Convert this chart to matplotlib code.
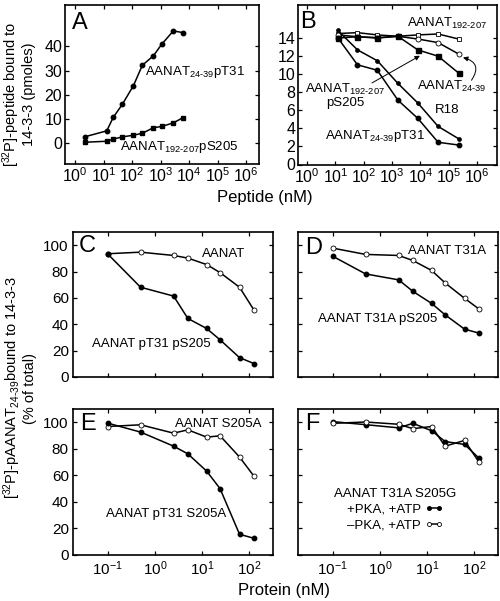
import matplotlib
matplotlib.use('Agg')
import matplotlib.pyplot as plt
from matplotlib.ticker import NullLocator

plt.rcParams['font.family'] = ['Liberation Sans', 'DejaVu Sans']
plt.rcParams['mathtext.fontset'] = 'custom'
plt.rcParams['mathtext.rm'] = 'Liberation Sans'
plt.rcParams['mathtext.it'] = 'Liberation Sans:italic'
plt.rcParams['mathtext.bf'] = 'Liberation Sans:bold'
plt.rcParams['axes.linewidth'] = 1.2
plt.rcParams['xtick.direction'] = 'in'
plt.rcParams['ytick.direction'] = 'in'
plt.rcParams['xtick.top'] = True
plt.rcParams['ytick.right'] = True
plt.rcParams['xtick.major.size'] = 3
plt.rcParams['ytick.major.size'] = 3
plt.rcParams['xtick.major.width'] = 0.9
plt.rcParams['ytick.major.width'] = 0.9

# Panel A: peptide (nM) vs pmoles bound
a_conc = [2.3, 13, 22, 46, 112, 230, 560, 1100, 2800, 6000]
a_pT31 = [2.7, 5.1, 10.7, 16.1, 23.8, 32.2, 36.1, 40.9, 46.4, 45.7]
a_pS205 = [0.4, 0.8, 1.7, 2.6, 3.3, 4.1, 6.4, 6.9, 8.4, 10.5]

# Panel B: competition, peptide (nM)
b_conc = [12, 60, 300, 1600, 8000, 42000, 220000]
b_192_207 = [14.45, 14.55, 14.3, 14.15, 14.3, 14.4, 13.85]
b_24_39 = [14.3, 14.1, 13.95, 14.15, 13.85, 13.45, 12.2]
b_pS205 = [13.95, 14.1, 14.0, 14.15, 12.65, 11.95, 10.1]
b_R18 = [14.8, 12.65, 11.45, 8.95, 6.8, 4.2, 2.85]
b_pT31 = [14.0, 11.0, 10.4, 7.1, 5.1, 2.45, 2.15]

# Panels C-F: protein (nM) vs % of total
prot = [0.1, 0.5, 2.5, 5, 12.5, 24, 62, 125]
c_aanat = [93.5, 94.7, 92.2, 90.2, 85.3, 79.2, 68.1, 50.8]
c_pT31_pS205 = [93.5, 68.1, 61.4, 44.4, 36.8, 28.2, 14.7, 10.2]
d_T31A = [97.8, 93.0, 92.2, 88.4, 80.8, 71.4, 59.7, 51.6]
d_T31A_pS205 = [91.7, 78.2, 73.7, 65.0, 55.8, 47.2, 36.3, 33.3]
e_S205A = [96.8, 98.1, 91.8, 94.3, 88.8, 89.8, 73.8, 59.4]
e_pT31_S205A = [99.4, 92.6, 82.0, 76.2, 63.2, 50.0, 15.6, 12.6]
f_plus_pka = [100.5, 98.2, 95.8, 99.2, 93.6, 85.5, 83.3, 73.0]
f_minus_pka = [99.2, 100.2, 98.5, 95.2, 96.8, 82.0, 86.3, 70.0]

W, H = 500, 601
fig = plt.figure(figsize=(W / 100, H / 100), dpi=100)


def rect(left, top, right, bottom):
    return [left / W, 1 - bottom / H, (right - left) / W, (bottom - top) / H]


axA = fig.add_axes(rect(65, 5, 259, 164))
axB = fig.add_axes(rect(298, 5, 497, 164.5))
axC = fig.add_axes(rect(73, 232, 273, 377))
axD = fig.add_axes(rect(298, 232, 498, 377))
axE = fig.add_axes(rect(73, 409, 273, 555))
axF = fig.add_axes(rect(298, 409, 498, 555))

closed = dict(color='black', lw=1.1, marker='o', ms=3.2, mfc='black', mec='black')
opened = dict(color='black', lw=1.1, marker='o', ms=3.6, mfc='white', mec='black', mew=0.6)
ann = 9.5

# ---- A ----
axA.plot(a_conc, a_pT31, **closed)
axA.plot(a_conc, a_pS205, color='black', lw=1.1, marker='s', ms=3.2)
axA.set_xscale('log')
axA.set_xlim(10 ** -0.35, 10 ** 6.45)
axA.set_ylim(-8.6, 57.1)
axA.set_xticks([10 ** k for k in range(7)])
axA.set_yticks([0, 10, 20, 30, 40])
axA.text(280, 29.5, r'AANAT$_{\text{24-39}}$pT31', fontsize=ann, va='center')
axA.text(38, -1.5, r'AANAT$_{\text{192-207}}$pS205', fontsize=ann, va='center')

# ---- B ----
axB.plot(b_conc, b_192_207, color='black', lw=1.1, marker='s', ms=3.4, mfc='white', mew=0.6)
axB.plot(b_conc, b_24_39, **opened)
axB.plot(b_conc, b_pS205, color='black', lw=1.1, marker='s', ms=3.6)
axB.plot(b_conc, b_R18, color='black', lw=1.1, marker='o', ms=2.4)
axB.plot(b_conc, b_pT31, **closed)
axB.set_xscale('log')
axB.set_xlim(10 ** -0.32, 10 ** 6.7)
axB.set_ylim(0, 17.6)
axB.set_xticks([10 ** k for k in range(7)])
axB.set_yticks(list(range(0, 15, 2)))
axB.text(10 ** 3.52, 15.6, r'AANAT$_{\text{192-207}}$', fontsize=ann, va='center')
axB.text(10 ** 1.34, 7.6, 'AANAT$_{\\text{192-207}}$\npS205', fontsize=ann,
         ha='center', va='center', multialignment='center', linespacing=1.0)
axB.annotate('', xy=(10 ** 3.98, 12.0), xytext=(10 ** 2.29, 9.0),
             arrowprops=dict(arrowstyle='-|>', color='black', lw=0.7,
                             mutation_scale=7, shrinkA=0, shrinkB=0))
axB.text(10 ** 3.88, 8.6, r'AANAT$_{\text{24-39}}$', fontsize=ann, va='center')
axB.annotate('', xy=(10 ** 5.5, 11.8), xytext=(10 ** 5.8, 9.3),
             arrowprops=dict(arrowstyle='-|>', color='black', lw=0.7,
                             mutation_scale=7, shrinkA=0, shrinkB=0,
                             connectionstyle='arc3,rad=0.7'))
axB.text(10 ** 4.51, 6.06, 'R18', fontsize=ann, va='center')
axB.text(10 ** 0.63, 3.2, r'AANAT$_{\text{24-39}}$pT31', fontsize=ann, va='center')

# ---- C-F ----
axC.plot(prot, c_aanat, **opened)
axC.plot(prot, c_pT31_pS205, **closed)
axC.text(10 ** 0.99, 93, 'AANAT', fontsize=ann, va='center')
axC.text(10 ** -1.33, 25, 'AANAT pT31 pS205', fontsize=ann, va='center')

axD.plot(prot, d_T31A, **opened)
axD.plot(prot, d_T31A_pS205, **closed)
axD.text(10 ** 0.59, 95.5, 'AANAT T31A', fontsize=ann, va='center')
axD.text(10 ** -1.31, 44, 'AANAT T31A pS205', fontsize=ann, va='center')

axE.plot(prot, e_S205A, **opened)
axE.plot(prot, e_pT31_S205A, **closed)
axE.text(10 ** 0.42, 98.9, 'AANAT S205A', fontsize=ann, va='center')
axE.text(10 ** -1.03, 31, 'AANAT pT31 S205A', fontsize=ann, va='center')

axF.plot(prot, f_plus_pka, label='+PKA, +ATP', **closed)
axF.plot(prot, f_minus_pka, label='\u2013PKA, +ATP', **opened)
axF.legend(title='AANAT T31A S205G', markerfirst=False, frameon=False,
           loc='center', bbox_to_anchor=(0.485, 0.31), numpoints=2,
           handlelength=1.4, handletextpad=0.3, labelspacing=0.25,
           markerscale=0.8, fontsize=ann, title_fontsize=ann, borderpad=0)

for ax in (axC, axD, axE, axF):
    ax.set_xscale('log')
    ax.set_xlim(10 ** -1.73, 10 ** 2.5)
    ax.set_ylim(0, 110)
    ax.set_xticks([0.1, 1, 10, 100])
    ax.set_yticks([0, 20, 40, 60, 80, 100])

for ax in (axA, axB):
    ax.tick_params(labelsize=11.5, pad=2)
for ax in (axC, axD, axE, axF):
    ax.tick_params(labelsize=11, pad=3)
for ax in (axA, axB, axC, axD, axE, axF):
    ax.xaxis.set_minor_locator(NullLocator())
for ax in (axC, axD):
    ax.tick_params(labelbottom=False)
for ax in (axD, axF):
    ax.tick_params(labelleft=False)

letters = [(axA, 'A', 0.036, 0.887), (axB, 'B', 0.012, 0.894), (axC, 'C', 0.027, 0.9),
           (axD, 'D', 0.035, 0.893), (axE, 'E', 0.035, 0.897), (axF, 'F', 0.035, 0.897)]
for ax, s, x, y in letters:
    ax.text(x, y, s, transform=ax.transAxes, fontsize=17, ha='left', va='center')


# axis titles in pixel positions
def ftext(px, py, s, **kw):
    fig.text(px / W, 1 - py / H, s, ha='center', va='center', **kw)


ftext(18, 94, '[$^{\\mathregular{32}}$P]-peptide bound to\n14-3-3 (pmoles)',
      rotation=90, fontsize=10.5, multialignment='center', linespacing=0.95)
ftext(265, 198, 'Peptide (nM)', fontsize=12)
ftext(19, 388, '[$^{\\mathregular{32}}$P]-pAANAT$_{\\text{24-39}}$bound to 14-3-3\n(% of total)',
      rotation=90, fontsize=10.5, multialignment='center', linespacing=0.95)
ftext(284, 590, 'Protein (nM)', fontsize=12)

fig.savefig('out.png', dpi=100)
